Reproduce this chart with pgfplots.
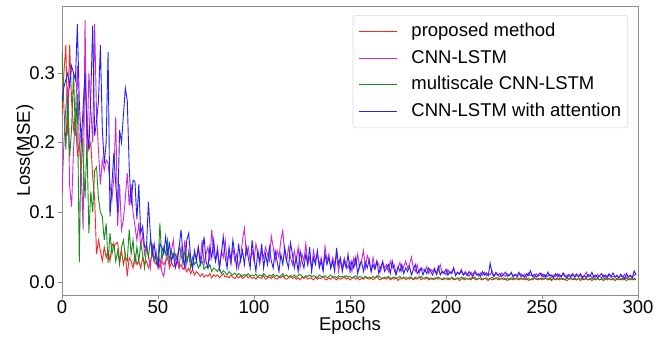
\documentclass[border=0pt]{standalone}
\usepackage{fontspec}
\setmainfont{Liberation Sans}
\usepackage{pgfplots}
\usepackage{pgfplotstable}
\pgfplotsset{compat=1.18}
\definecolor{mplred}{rgb}{1,0.15,0.15}
\definecolor{mplmag}{rgb}{0.82,0.15,0.82}
\definecolor{mplgreen}{rgb}{0.1,0.55,0.1}
\definecolor{mplblue}{rgb}{0.12,0.12,1}
\definecolor{framegray}{rgb}{0.55,0.55,0.55}
\newcommand\legline[1]{\pgfsetstrokecolor{white}\pgfsetstrokecolor{#1}\path (51bp,0bp); \draw[line width=1bp] (0bp,0bp) -- (38bp,0bp);}

% proposed method
\pgfplotstableread[header=false,row sep=\\]{
0.24\\0.30\\0.34\\0.21\\0.34\\0.26\\0.22\\0.24\\0.18\\0.20\\
0.16\\0.22\\0.30\\0.24\\0.19\\0.20\\0.15\\0.12\\0.04\\0.06\\
0.045\\0.03\\0.05\\0.035\\0.045\\0.03\\0.055\\0.05\\0.055\\0.057\\
0.03\\0.045\\0.025\\0.04\\0.008\\0.035\\0.03\\0.02\\0.04\\0.025\\
0.03\\0.02\\0.035\\0.025\\0.03\\0.02\\0.028\\0.04\\0.03\\0.025\\
0.035\\0.02\\0.03\\0.025\\0.03\\0.035\\0.02\\0.028\\0.022\\0.025\\
0.03\\0.02\\0.025\\0.018\\0.022\\0.015\\0.02\\0.012\\0.018\\0.01\\
0.015\\0.012\\0.008\\0.012\\0.007\\0.01\\0.008\\0.012\\0.006\\0.01\\
0.008\\0.01\\0.006\\0.009\\0.012\\0.007\\0.008\\0.006\\0.01\\0.007\\
0.005\\0.008\\0.006\\0.009\\0.005\\0.007\\0.01\\0.006\\0.008\\0.005\\
0.007\\0.004\\0.008\\0.006\\0.005\\0.009\\0.004\\0.006\\0.007\\0.005\\
0.008\\0.005\\0.004\\0.007\\0.006\\0.009\\0.005\\0.004\\0.006\\0.008\\
0.005\\0.007\\0.004\\0.006\\0.003\\0.007\\0.005\\0.008\\0.004\\0.006\\
0.005\\0.003\\0.007\\0.004\\0.006\\0.005\\0.008\\0.004\\0.003\\0.006\\
0.004\\0.007\\0.005\\0.003\\0.006\\0.004\\0.005\\0.008\\0.004\\0.006\\
0.003\\0.005\\0.007\\0.004\\0.006\\0.003\\0.005\\0.004\\0.007\\0.005\\
0.004\\0.006\\0.003\\0.005\\0.009\\0.004\\0.003\\0.006\\0.005\\0.004\\
0.007\\0.003\\0.005\\0.004\\0.006\\0.002\\0.005\\0.004\\0.007\\0.003\\
0.005\\0.004\\0.006\\0.003\\0.005\\0.004\\0.008\\0.003\\0.005\\0.004\\
0.006\\0.003\\0.004\\0.005\\0.003\\0.006\\0.004\\0.005\\0.003\\0.004\\
0.005\\0.003\\0.004\\0.006\\0.003\\0.004\\0.005\\0.002\\0.004\\0.006\\
0.003\\0.005\\0.004\\0.003\\0.007\\0.004\\0.003\\0.005\\0.004\\0.003\\
0.005\\0.004\\0.002\\0.005\\0.003\\0.004\\0.006\\0.003\\0.004\\0.005\\
0.003\\0.004\\0.002\\0.005\\0.004\\0.003\\0.005\\0.004\\0.003\\0.006\\
0.004\\0.003\\0.005\\0.002\\0.004\\0.003\\0.005\\0.004\\0.003\\0.005\\
0.003\\0.004\\0.006\\0.003\\0.004\\0.002\\0.005\\0.003\\0.004\\0.003\\
0.005\\0.003\\0.004\\0.002\\0.004\\0.005\\0.003\\0.004\\0.003\\0.005\\
0.002\\0.004\\0.003\\0.005\\0.003\\0.004\\0.002\\0.004\\0.003\\0.005\\
0.003\\0.004\\0.002\\0.004\\0.003\\0.005\\0.003\\0.004\\0.002\\0.004\\
0.003\\0.005\\0.003\\0.004\\0.002\\0.004\\0.003\\0.005\\0.003\\0.004\\
}\redtab

% CNN-LSTM
\pgfplotstableread[header=false,row sep=\\]{
0.127\\0.20\\0.25\\0.28\\0.137\\0.108\\0.19\\0.24\\0.31\\0.20\\
0.16\\0.075\\0.376\\0.18\\0.30\\0.25\\0.20\\0.37\\0.24\\0.19\\
0.14\\0.175\\0.16\\0.175\\0.17\\0.14\\0.118\\0.15\\0.237\\0.08\\
0.14\\0.075\\0.09\\0.12\\0.156\\0.11\\0.14\\0.10\\0.08\\0.06\\
0.085\\0.05\\0.07\\0.04\\0.055\\0.04\\0.02\\0.055\\0.03\\0.045\\
0.02\\0.035\\0.015\\0.008\\0.03\\0.05\\0.025\\0.045\\0.06\\0.03\\
0.04\\0.02\\0.05\\0.03\\0.06\\0.025\\0.045\\0.03\\0.02\\0.04\\
0.035\\0.05\\0.03\\0.06\\0.025\\0.04\\0.05\\0.03\\0.075\\0.04\\
0.03\\0.05\\0.02\\0.045\\0.035\\0.06\\0.03\\0.04\\0.025\\0.05\\
0.03\\0.04\\0.02\\0.035\\0.06\\0.077\\0.04\\0.05\\0.03\\0.045\\
0.03\\0.055\\0.04\\0.025\\0.045\\0.035\\0.05\\0.04\\0.03\\0.066\\
0.05\\0.03\\0.045\\0.035\\0.06\\0.074\\0.04\\0.03\\0.05\\0.035\\
0.025\\0.045\\0.03\\0.05\\0.02\\0.04\\0.03\\0.055\\0.025\\0.035\\
0.02\\0.045\\0.03\\0.04\\0.025\\0.035\\0.02\\0.051\\0.03\\0.04\\
0.02\\0.035\\0.025\\0.04\\0.015\\0.03\\0.02\\0.035\\0.025\\0.02\\
0.03\\0.015\\0.035\\0.025\\0.04\\0.02\\0.03\\0.045\\0.02\\0.038\\
0.03\\0.015\\0.035\\0.02\\0.03\\0.025\\0.015\\0.03\\0.02\\0.025\\
0.015\\0.03\\0.02\\0.025\\0.012\\0.02\\0.028\\0.015\\0.022\\0.03\\
0.02\\0.025\\0.036\\0.02\\0.015\\0.025\\0.012\\0.02\\0.018\\0.015\\
0.022\\0.012\\0.018\\0.015\\0.02\\0.01\\0.017\\0.025\\0.013\\0.015\\
0.01\\0.018\\0.012\\0.015\\0.02\\0.01\\0.014\\0.012\\0.018\\0.01\\
0.015\\0.012\\0.008\\0.014\\0.01\\0.016\\0.012\\0.008\\0.013\\0.01\\
0.014\\0.009\\0.012\\0.01\\0.016\\0.008\\0.012\\0.01\\0.007\\0.013\\
0.01\\0.008\\0.012\\0.009\\0.014\\0.008\\0.011\\0.007\\0.01\\0.012\\
0.008\\0.011\\0.007\\0.013\\0.009\\0.01\\0.006\\0.012\\0.008\\0.01\\
0.012\\0.007\\0.01\\0.008\\0.011\\0.006\\0.01\\0.008\\0.012\\0.007\\
0.009\\0.011\\0.007\\0.01\\0.008\\0.006\\0.01\\0.008\\0.012\\0.007\\
0.009\\0.006\\0.008\\0.014\\0.007\\0.01\\0.006\\0.009\\0.007\\0.011\\
0.008\\0.006\\0.01\\0.007\\0.009\\0.012\\0.006\\0.008\\0.007\\0.01\\
0.006\\0.009\\0.007\\0.011\\0.006\\0.008\\0.01\\0.007\\0.009\\0.012\\
}\magtab

% multiscale CNN-LSTM
\pgfplotstableread[header=false,row sep=\\]{
0.33\\0.25\\0.19\\0.27\\0.18\\0.22\\0.30\\0.21\\0.27\\0.028\\
0.21\\0.18\\0.12\\0.20\\0.07\\0.13\\0.10\\0.16\\0.165\\0.12\\
0.10\\0.094\\0.06\\0.084\\0.027\\0.07\\0.04\\0.055\\0.03\\0.045\\
0.025\\0.05\\0.06\\0.035\\0.03\\0.075\\0.04\\0.06\\0.025\\0.05\\
0.03\\0.055\\0.04\\0.02\\0.05\\0.035\\0.06\\0.045\\0.03\\0.04\\
0.025\\0.084\\0.03\\0.05\\0.04\\0.06\\0.03\\0.045\\0.035\\0.04\\
0.03\\0.05\\0.04\\0.025\\0.045\\0.03\\0.04\\0.02\\0.035\\0.025\\
0.03\\0.02\\0.025\\0.03\\0.018\\0.022\\0.02\\0.025\\0.015\\0.02\\
0.018\\0.015\\0.02\\0.012\\0.016\\0.014\\0.01\\0.015\\0.012\\0.01\\
0.013\\0.009\\0.012\\0.01\\0.008\\0.011\\0.009\\0.012\\0.008\\0.01\\
0.009\\0.011\\0.007\\0.01\\0.008\\0.012\\0.009\\0.007\\0.01\\0.008\\
0.011\\0.008\\0.01\\0.007\\0.009\\0.012\\0.008\\0.01\\0.007\\0.009\\
0.008\\0.01\\0.007\\0.009\\0.011\\0.008\\0.006\\0.009\\0.008\\0.01\\
0.007\\0.009\\0.008\\0.006\\0.01\\0.008\\0.007\\0.009\\0.006\\0.008\\
0.01\\0.007\\0.008\\0.006\\0.009\\0.007\\0.008\\0.006\\0.009\\0.007\\
0.008\\0.006\\0.007\\0.009\\0.006\\0.008\\0.007\\0.005\\0.008\\0.006\\
0.007\\0.005\\0.008\\0.006\\0.007\\0.009\\0.006\\0.005\\0.007\\0.006\\
0.008\\0.005\\0.006\\0.007\\0.005\\0.006\\0.008\\0.005\\0.006\\0.007\\
0.005\\0.007\\0.006\\0.004\\0.007\\0.005\\0.006\\0.008\\0.005\\0.006\\
0.007\\0.005\\0.006\\0.004\\0.006\\0.005\\0.007\\0.005\\0.004\\0.006\\
0.005\\0.006\\0.004\\0.007\\0.005\\0.004\\0.006\\0.005\\0.007\\0.004\\
0.006\\0.005\\0.004\\0.006\\0.005\\0.007\\0.004\\0.005\\0.006\\0.004\\
0.005\\0.006\\0.004\\0.005\\0.007\\0.004\\0.005\\0.006\\0.004\\0.005\\
0.006\\0.004\\0.005\\0.003\\0.006\\0.005\\0.004\\0.006\\0.005\\0.004\\
0.005\\0.006\\0.004\\0.005\\0.003\\0.005\\0.006\\0.004\\0.005\\0.004\\
0.006\\0.004\\0.005\\0.004\\0.006\\0.003\\0.005\\0.004\\0.006\\0.005\\
0.004\\0.005\\0.003\\0.006\\0.004\\0.005\\0.004\\0.006\\0.003\\0.005\\
0.004\\0.006\\0.004\\0.005\\0.003\\0.005\\0.004\\0.006\\0.004\\0.005\\
0.003\\0.005\\0.004\\0.006\\0.004\\0.005\\0.003\\0.005\\0.004\\0.005\\
0.004\\0.003\\0.005\\0.004\\0.006\\0.004\\0.005\\0.003\\0.005\\0.004\\
}\greentab

% CNN-LSTM with attention
\pgfplotstableread[header=false,row sep=\\]{
0.26\\0.28\\0.29\\0.30\\0.28\\0.31\\0.30\\0.29\\0.37\\0.26\\
0.20\\0.25\\0.30\\0.22\\0.19\\0.27\\0.368\\0.21\\0.23\\0.26\\
0.34\\0.22\\0.17\\0.20\\0.33\\0.094\\0.14\\0.185\\0.14\\0.10\\
0.218\\0.20\\0.24\\0.278\\0.26\\0.165\\0.11\\0.146\\0.144\\0.09\\
0.14\\0.07\\0.08\\0.05\\0.05\\0.115\\0.07\\0.04\\0.055\\0.03\\
0.022\\0.055\\0.05\\0.04\\0.065\\0.04\\0.055\\0.03\\0.04\\0.02\\
0.03\\0.05\\0.075\\0.04\\0.02\\0.06\\0.07\\0.035\\0.02\\0.045\\
0.03\\0.05\\0.025\\0.04\\0.065\\0.03\\0.02\\0.05\\0.035\\0.06\\
0.03\\0.045\\0.02\\0.04\\0.065\\0.035\\0.02\\0.05\\0.03\\0.06\\
0.04\\0.02\\0.055\\0.03\\0.045\\0.025\\0.05\\0.035\\0.02\\0.06\\
0.035\\0.015\\0.045\\0.03\\0.055\\0.02\\0.04\\0.025\\0.05\\0.03\\
0.02\\0.045\\0.03\\0.015\\0.04\\0.025\\0.05\\0.03\\0.02\\0.056\\
0.04\\0.02\\0.035\\0.015\\0.045\\0.03\\0.02\\0.04\\0.025\\0.05\\
0.015\\0.035\\0.025\\0.045\\0.02\\0.03\\0.015\\0.04\\0.025\\0.035\\
0.02\\0.03\\0.015\\0.049\\0.025\\0.035\\0.015\\0.03\\0.02\\0.04\\
0.015\\0.03\\0.02\\0.035\\0.012\\0.025\\0.03\\0.015\\0.028\\0.02\\
0.032\\0.015\\0.025\\0.018\\0.03\\0.012\\0.022\\0.028\\0.015\\0.02\\
0.025\\0.012\\0.03\\0.018\\0.01\\0.022\\0.015\\0.025\\0.012\\0.02\\
0.015\\0.022\\0.01\\0.018\\0.025\\0.012\\0.016\\0.02\\0.01\\0.018\\
0.012\\0.02\\0.015\\0.01\\0.018\\0.012\\0.022\\0.01\\0.015\\0.012\\
0.018\\0.01\\0.015\\0.012\\0.02\\0.009\\0.014\\0.011\\0.016\\0.01\\
0.013\\0.009\\0.015\\0.011\\0.008\\0.014\\0.01\\0.012\\0.008\\0.015\\
0.01\\0.013\\0.009\\0.027\\0.012\\0.008\\0.014\\0.01\\0.012\\0.008\\
0.011\\0.014\\0.008\\0.01\\0.013\\0.007\\0.011\\0.009\\0.014\\0.008\\
0.01\\0.007\\0.012\\0.009\\0.016\\0.008\\0.011\\0.007\\0.01\\0.013\\
0.008\\0.011\\0.007\\0.014\\0.009\\0.01\\0.006\\0.012\\0.008\\0.011\\
0.007\\0.013\\0.009\\0.006\\0.011\\0.008\\0.012\\0.007\\0.01\\0.008\\
0.012\\0.007\\0.009\\0.006\\0.011\\0.008\\0.014\\0.007\\0.01\\0.006\\
0.009\\0.012\\0.007\\0.01\\0.006\\0.011\\0.008\\0.013\\0.007\\0.009\\
0.006\\0.011\\0.008\\0.005\\0.012\\0.007\\0.009\\0.006\\0.016\\0.01\\
}\bluetab

\begin{document}
\begin{tikzpicture}
\begin{axis}[
  scale only axis,
  width=576bp, height=289bp,
  xmin=0, xmax=300,
  ymin=-0.0187, ymax=0.396,
  xtick={0,50,100,150,200,250,300},
  ytick={0,0.1,0.2,0.3},
  yticklabel style={/pgf/number format/fixed, /pgf/number format/fixed zerofill, /pgf/number format/precision=1},
  /pgf/number format/assume math mode=true,
  tick label style={font=\fontsize{18.5bp}{22bp}\selectfont},
  axis line style={framegray, line width=0.9bp},
  tick style={framegray, line width=0.8bp},
  tick align=outside,
  major tick length=3.5bp,
  xtick pos=bottom, ytick pos=left,
  xticklabel style={yshift=1bp},
  xlabel={Epochs},
  ylabel={Loss(MSE)},
  every axis x label/.style={at={(axis description cs:0.5,0)}, anchor=center, yshift=-31bp, font=\fontsize{18.5bp}{22bp}\selectfont},
  every axis y label/.style={at={(axis description cs:0,0.5)}, xshift=-37bp, rotate=90, anchor=center, font=\fontsize{18.5bp}{22bp}\selectfont},
  legend cell align=left,
  legend style={
    at={(1,1)}, anchor=north east, xshift=-10bp, yshift=-9bp,
    draw=black!15, rounded corners=3bp, line width=0.6bp,
    font=\fontsize{18.5bp}{22bp}\selectfont,
    inner xsep=5bp, inner ysep=6bp,
    row sep=5.5bp,
    nodes={inner sep=1.5bp, text height=14bp, text depth=4bp},
  },
  every axis plot/.append style={line width=0.9bp},
]
\addplot[draw=mplred, legend image code/.code={\legline{mplred}}] table[x expr=\coordindex, y index=0] {\redtab};
\addlegendentry{proposed method}
\addplot[draw=mplmag, legend image code/.code={\legline{mplmag}}] table[x expr=\coordindex, y index=0] {\magtab};
\addlegendentry{CNN-LSTM}
\addplot[draw=mplgreen, legend image code/.code={\legline{mplgreen}}] table[x expr=\coordindex, y index=0] {\greentab};
\addlegendentry{multiscale CNN-LSTM}
\addplot[draw=mplblue, legend image code/.code={\legline{mplblue}}] table[x expr=\coordindex, y index=0] {\bluetab};
\addlegendentry{CNN-LSTM with attention}
\end{axis}
\pgfresetboundingbox
\path[use as bounding box] ([shift={(-62bp,-42bp)}]current axis.south west) rectangle ([shift={(29bp,6bp)}]current axis.north east);
\end{tikzpicture}
\end{document}
